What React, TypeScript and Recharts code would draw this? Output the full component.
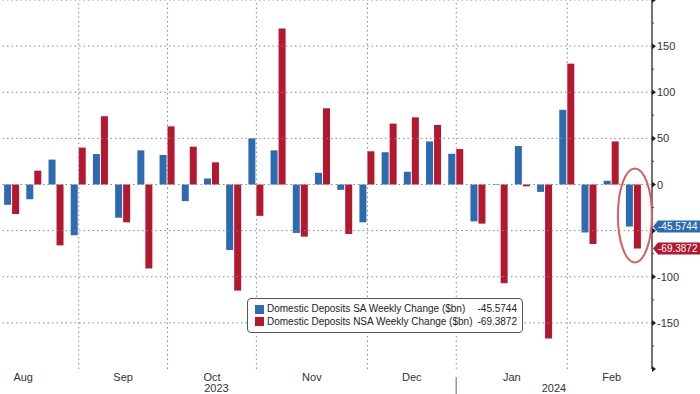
import React from "react";
import {
  Bar,
  BarChart,
  Legend,
  ReferenceDot,
  ReferenceLine,
  XAxis,
  YAxis,
} from "recharts";

const weeks = [
  "2023-08-16", "2023-08-23", "2023-08-30", "2023-09-06", "2023-09-13",
  "2023-09-20", "2023-09-27", "2023-10-04", "2023-10-11", "2023-10-18",
  "2023-10-25", "2023-11-01", "2023-11-08", "2023-11-15", "2023-11-22",
  "2023-11-29", "2023-12-06", "2023-12-13", "2023-12-20", "2023-12-27",
  "2024-01-03", "2024-01-10", "2024-01-17", "2024-01-24", "2024-01-31",
  "2024-02-07", "2024-02-14", "2024-02-21", "2024-02-28",
];

// Domestic Deposits SA Weekly Change ($bn)
const saChange = [
  -22, -16, 27, -55, 33, -36, 37, 32, -18, 6.5, -71, 50, 37, -52.5, 12.7,
  -5.8, -41, 35, 13.8, 46.7, 33.3, -40, -0.5, 41.7, -8, 81, -52, 4, -45.5744,
];

// Domestic Deposits NSA Weekly Change ($bn)
const nsaChange = [
  -32, 15, -66, 40, 74, -41, -91, 63, 41, 24, -115, -34, 169, -56.5, 82.6,
  -53.6, 36, 66, 72.8, 64.5, 38.4, -42.4, -107, -2, -167, 131, -64.5, 46.7,
  -69.3872,
];

const monthStarts = ["2023-09-06", "2023-10-04", "2023-11-01", "2023-12-06", "2024-01-03", "2024-02-07"];
const monthTicks = [0.5, 5, 9, 13.5, 18, 22.5, 27];
const monthLabels = ["Aug", "Sep", "Oct", "Nov", "Dec", "Jan", "Feb"];
const yearTicks = [9.2, 20, 24.4];
const yearLabels = ["2023", "", "2024"];
const yTicks = [-200, -175, -150, -125, -100, -75, -50, -25, 0, 25, 50, 75, 100, 125, 150, 175, 200];
const gridValues = [-150, -100, -50, 0, 50, 100, 150, 200];

const SA_COLOR = "#2c6bb2";
const NSA_COLOR = "#b5172f";
const FONT = "'Liberation Sans', Arial, sans-serif";

const data = weeks.map((week, i) => ({
  week,
  idx: i,
  sa: saChange[i],
  nsa: nsaChange[i],
}));

const lastSa = saChange[saChange.length - 1];
const lastNsa = nsaChange[nsaChange.length - 1];
const lastWeek = weeks[weeks.length - 1];

function fmt(v: number) {
  return v.toFixed(4);
}

function MonthTick({ x, y, payload }: any) {
  const i = monthTicks.indexOf(payload.value);
  return (
    <text x={x} y={y} dy={12} textAnchor="middle" fontSize={11} fill="#333" fontFamily={FONT}>
      {monthLabels[i]}
    </text>
  );
}

function YearTick({ x, y, payload }: any) {
  const i = yearTicks.indexOf(payload.value);
  if (!yearLabels[i]) {
    return <line x1={x} x2={x} y1={y - 4} y2={y + 13} stroke="#999" strokeWidth={1.5} />;
  }
  return (
    <text x={x} y={y} dy={11} textAnchor="middle" fontSize={11} fill="#333" fontFamily={FONT}>
      {yearLabels[i]}
    </text>
  );
}

function RightTick({ x, y, payload }: any) {
  const v = payload.value as number;
  if (v % 50 !== 0) {
    return <line x1={x} x2={x + 2} y1={y} y2={y} stroke="#444" />;
  }
  const showLabel = Math.abs(v) < 200 && v !== -50;
  return (
    <g>
      <path d={`M${x},${y - 3} L${x + 4},${y} L${x},${y + 3} Z`} fill="#222" />
      {showLabel && (
        <text x={x + 5} y={y} dy={4} fontSize={11} fill="#333" fontFamily={FONT}>
          {v < 0 ? `-${Math.abs(v)}` : v}
        </text>
      )}
    </g>
  );
}

function ValueTag({ viewBox, value, color }: any) {
  const x0 = viewBox.x + viewBox.width + 1;
  const y = viewBox.y;
  return (
    <g>
      <path
        d={`M${x0},${y} L${x0 + 5},${y - 6} L700,${y - 6} L700,${y + 6} L${x0 + 5},${y + 6} Z`}
        fill={color}
      />
      <text x={x0 + 5} y={y} dy={3.5} fontSize={10} fill="#fff" fontFamily={FONT}>
        {fmt(value)}
      </text>
    </g>
  );
}

function LegendBox() {
  const rows = [
    { color: SA_COLOR, name: "Domestic Deposits SA Weekly Change ($bn)", value: lastSa },
    { color: NSA_COLOR, name: "Domestic Deposits NSA Weekly Change ($bn)", value: lastNsa },
  ];
  return (
    <div
      style={{
        border: "1px solid #555",
        borderRadius: 4,
        background: "#fff",
        padding: "4px 5px 4px 7px",
        fontFamily: FONT,
        fontSize: 10,
        lineHeight: "12.5px",
        color: "#222",
        boxSizing: "border-box",
        width: 276,
        whiteSpace: "nowrap",
      }}
    >
      {rows.map((r) => (
        <div key={r.name} style={{ display: "flex", alignItems: "center" }}>
          <span style={{ width: 9, height: 9, background: r.color, marginRight: 3, display: "inline-block", flexShrink: 0 }} />
          <span style={{ flex: 1 }}>{r.name}</span>
          <span style={{ paddingLeft: 4 }}>{fmt(r.value)}</span>
        </div>
      ))}
    </div>
  );
}

export default function App() {
  return (
    <div style={{ width: 700, height: 394, background: "#fff" }}>
      <style>{"body{margin:0}"}</style>
      <BarChart
        width={700}
        height={394}
        data={data}
        margin={{ top: 0, right: 0, left: 0, bottom: 0 }}
        barCategoryGap="14%"
        barGap={1}
      >
        <XAxis
          xAxisId={0}
          dataKey="week"
          height={0}
          interval={0}
          tick={false}
          tickSize={3}
          padding={{ left: 1, right: 7 }}
          axisLine={{ stroke: "#333" }}
          tickLine={{ stroke: "#555" }}
        />
        <XAxis
          xAxisId="m"
          dataKey="idx"
          type="number"
          domain={[-0.5, 28.5]}
          ticks={monthTicks}
          interval={0}
          height={12}
          padding={{ left: 1, right: 7 }}
          axisLine={false}
          tickLine={false}
          tickSize={0}
          tickMargin={0}
          tick={<MonthTick />}
        />
        <XAxis
          xAxisId="y"
          dataKey="idx"
          type="number"
          domain={[-0.5, 28.5]}
          ticks={yearTicks}
          interval={0}
          height={13}
          padding={{ left: 1, right: 7 }}
          axisLine={false}
          tickLine={false}
          tickSize={0}
          tickMargin={0}
          tick={<YearTick />}
        />
        <YAxis
          yAxisId="r"
          orientation="right"
          width={48}
          domain={[-200, 200]}
          ticks={yTicks}
          interval={0}
          allowDataOverflow
          axisLine={{ stroke: "#444", strokeWidth: 1.5 }}
          tickLine={false}
          tickSize={0}
          tickMargin={0}
          tick={<RightTick />}
        />
        {gridValues.map((v) => (
          <ReferenceLine key={`h${v}`} yAxisId="r" y={v} stroke="#888" strokeDasharray="1.5 3" />
        ))}
        {monthStarts.map((m) => (
          <ReferenceLine key={`v${m}`} yAxisId="r" x={m} stroke="#888" strokeDasharray="1.5 3" />
        ))}
        <Bar yAxisId="r" dataKey="sa" fill={SA_COLOR} isAnimationActive={false} />
        <Bar yAxisId="r" dataKey="nsa" fill={NSA_COLOR} isAnimationActive={false} />
        <ReferenceLine
          yAxisId="r"
          y={lastSa}
          stroke="none"
          label={(p: any) => <ValueTag {...p} value={lastSa} color={SA_COLOR} />}
        />
        <ReferenceLine
          yAxisId="r"
          y={lastNsa}
          stroke="none"
          label={(p: any) => <ValueTag {...p} value={lastNsa} color={NSA_COLOR} />}
        />
        <ReferenceDot
          yAxisId="r"
          x={lastWeek}
          y={-33.5}
          shape={(p: any) => (
            <ellipse cx={p.cx + 1} cy={p.cy} rx={17} ry={47} fill="none" stroke="#df5c5c" strokeWidth={2} />
          )}
        />
        <Legend
          layout="horizontal"
          verticalAlign="middle"
          align="center"
          content={<LegendBox />}
          wrapperStyle={{ position: "absolute", left: 247, top: 298, width: 276 }}
        />
      </BarChart>
    </div>
  );
}
